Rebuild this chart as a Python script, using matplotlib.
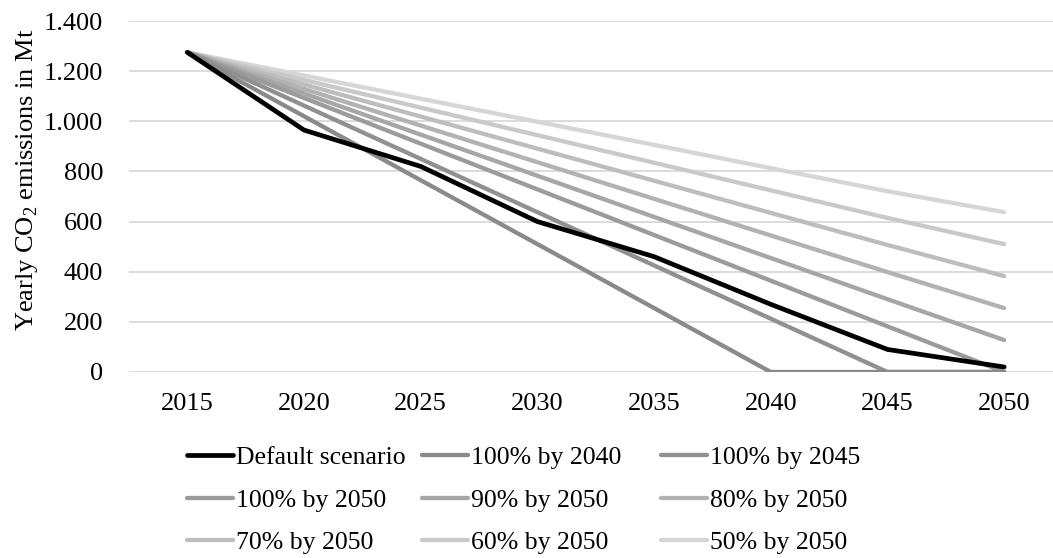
import numpy as np
import matplotlib
matplotlib.use("Agg")
import matplotlib.pyplot as plt
from matplotlib.ticker import FuncFormatter

plt.rcParams['font.family'] = ['Liberation Serif', 'DejaVu Serif']
plt.rcParams['mathtext.fontset'] = 'custom'
plt.rcParams['mathtext.rm'] = 'Liberation Serif'

years = ['2015', '2020', '2025', '2030', '2035', '2040', '2045', '2050']

default_scenario = [1275, 965, 820, 600, 460, 270, 90, 20]
full_2040 = [1275, 1020, 765, 510, 255, 0, 0, 0]
full_2045 = [1275, 1062.5, 850, 637.5, 425, 212.5, 0, 0]
full_2050 = [1275, 1092.9, 910.7, 728.6, 546.4, 364.3, 182.1, 0]
p90_2050 = [1275, 1110.9, 946.8, 782.7, 618.6, 454.5, 290.4, 127.5]
p80_2050 = [1275, 1128.9, 982.9, 836.8, 690.7, 544.6, 398.6, 255]
p70_2050 = [1275, 1146.8, 1018.9, 890.9, 762.9, 634.6, 506.8, 382.5]
p60_2050 = [1275, 1164.6, 1054.6, 944.6, 834.6, 724.6, 614.6, 510]
p50_2050 = [1275, 1182.5, 1090.0, 998.0, 906.0, 813.0, 721.0, 637.5]

series = [
    ('Default scenario', default_scenario, '#000000', 3.4),
    ('100% by 2040', full_2040, '#8a8a8a', 3.1),
    ('100% by 2045', full_2045, '#909090', 3.1),
    ('100% by 2050', full_2050, '#9b9b9b', 3.1),
    ('90% by 2050', p90_2050, '#a6a6a6', 3.1),
    ('80% by 2050', p80_2050, '#b2b2b2', 3.1),
    ('70% by 2050', p70_2050, '#bdbdbd', 3.1),
    ('60% by 2050', p60_2050, '#c9c9c9', 3.1),
    ('50% by 2050', p50_2050, '#d6d6d6', 3.1),
]

fig = plt.figure(figsize=(10.53, 5.58), dpi=100)
ax = fig.add_axes([129 / 1053, 1 - 372 / 558, 933.5 / 1053, 351 / 558])

x = np.arange(len(years))
handles = {}
# lighter lines first so the darker ones sit on top
for name, vals, col, lw in reversed(series):
    h, = ax.plot(x, vals, color=col, lw=lw, solid_capstyle='round', label=name)
    handles[name] = h

ax.set_xlim(-0.5, len(years) - 0.5)
ax.set_ylim(0, 1400)
ax.set_yticks(np.arange(0, 1401, 200))
ax.yaxis.set_major_formatter(FuncFormatter(lambda v, p: '{:,.0f}'.format(v).replace(',', '.')))
ax.set_xticks(x)
ax.set_xticklabels(years)
ax.grid(axis='y', color='#d9d9d9', lw=1.3)
ax.set_axisbelow(True)
for s in ax.spines.values():
    s.set_visible(False)
ax.tick_params(axis='both', length=0, labelsize=19)
ax.tick_params(axis='y', pad=18.5)
ax.tick_params(axis='x', pad=15)

fig.text(27 / 1053, 1 - 180 / 558, 'Yearly CO$_2$ emissions in Mt', rotation=90,
         fontsize=19, ha='center', va='center')

columns = [
    ['Default scenario', '100% by 2050', '70% by 2050'],
    ['100% by 2040', '90% by 2050', '60% by 2050'],
    ['100% by 2045', '80% by 2050', '50% by 2050'],
]
col_x = [187, 422, 661]
for names, cx in zip(columns, col_x):
    fig.legend([handles[n] for n in names], names,
               loc='upper left', bbox_to_anchor=(cx / 1053, 1 - 446 / 558),
               frameon=False, fontsize=18.5, handlelength=1.8,
               handletextpad=0.1, labelspacing=0.76, borderpad=0,
               borderaxespad=0)

fig.savefig('out.png', dpi=100)
